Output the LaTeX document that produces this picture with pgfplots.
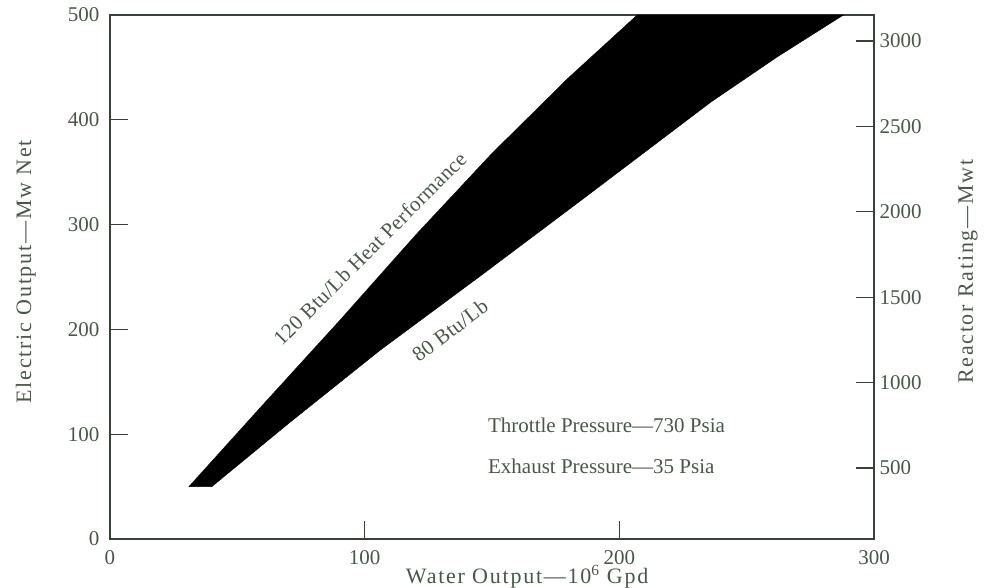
\documentclass[border=0pt]{standalone}
\usepackage{pgfplots}
\pgfplotsset{compat=1.18}
\usepackage{fontspec}
\setmainfont{Liberation Serif}
\newfontfamily\lblfont[LetterSpace=8]{Liberation Serif}
\newfontfamily\curvefont[LetterSpace=2]{Liberation Serif}
\definecolor{txt}{RGB}{72,88,72}
\definecolor{axc}{RGB}{55,65,55}
\begin{document}
\begin{tikzpicture}
\useasboundingbox (-110pt,-49pt) rectangle (881pt,539pt);
\begin{axis}[
  at={(0pt,0pt)}, anchor=south west,
  scale only axis, width=764pt, height=524pt,
  xmin=0, xmax=300, ymin=0, ymax=500,
  xtick={0,100,200,300}, ytick={0,100,200,300,400,500},
  xtick pos=bottom, ytick pos=left,
  tick align=inside,
  major tick length=18pt,
  axis line style={axc, line width=1.3pt},
  every tick/.style={axc, line width=1.2pt},
  ticklabel style={font=\fontsize{21}{21}\selectfont, text=txt},
  xticklabel style={yshift=-8pt},
  yticklabel style={xshift=-7pt},
  /pgf/number format/assume math mode=true,
  xlabel={\lblfont\fontsize{22}{22}\selectfont Water Output\textemdash10\textsuperscript{6} Gpd},
  ylabel={\lblfont\fontsize{22}{22}\selectfont Electric Output\textemdash Mw Net},
  label style={text=txt},
  xlabel style={at={(axis description cs:0.546,-0.0725)}, anchor=center},
  ylabel style={at={(axis description cs:-0.110,0.51)}, anchor=center, rotate=0},
  clip=true,
]
\addplot[fill=black, draw=black, line width=0.4pt] coordinates {
  (31,50) (40,50) (70,110) (106,180) (146,252) (186,325) (236,417) (262,460) (288,500)
  (207,500) (180,440) (150,368) (120,290) (90,208) (60,128) (31,50)
} -- cycle;
\node[font=\curvefont\fontsize{21}{21}\selectfont, text=txt, rotate=45, anchor=center]
  at (axis cs:102,277) {120 Btu/Lb Heat Performance};
\node[font=\curvefont\fontsize{21}{21}\selectfont, text=txt, rotate=37, anchor=center]
  at (axis cs:133.5,199) {80 Btu/Lb};
\node[font=\fontsize{21}{21}\selectfont, text=txt, anchor=west, inner sep=0pt]
  at (axis cs:148.4,108.8) {Throttle Pressure\textemdash730 Psia};
\node[font=\fontsize{21}{21}\selectfont, text=txt, anchor=west, inner sep=0pt]
  at (axis cs:148.4,69.7) {Exhaust Pressure\textemdash35 Psia};
\end{axis}
\begin{axis}[
  at={(0pt,0pt)}, anchor=south west,
  scale only axis, width=764pt, height=524pt,
  xmin=0, xmax=300, ymin=85, ymax=3152,
  axis x line=none, axis y line*=right,
  ytick={500,1000,1500,2000,2500,3000},
  tick align=inside,
  major tick length=18pt,
  axis line style={axc, line width=1.3pt},
  every tick/.style={axc, line width=1.2pt},
  ticklabel style={font=\fontsize{21}{21}\selectfont, text=txt},
  yticklabel style={xshift=2pt},
  /pgf/number format/assume math mode=true,
  /pgf/number format/1000 sep={},
  ylabel={\lblfont\fontsize{22}{22}\selectfont Reactor Rating\textemdash Mwt},
  label style={text=txt},
  ylabel style={at={(axis description cs:1.123,0.51)}, anchor=center, rotate=0},
]
\addplot[draw=none] coordinates {(0,100)};
\end{axis}
\end{tikzpicture}
\end{document}
